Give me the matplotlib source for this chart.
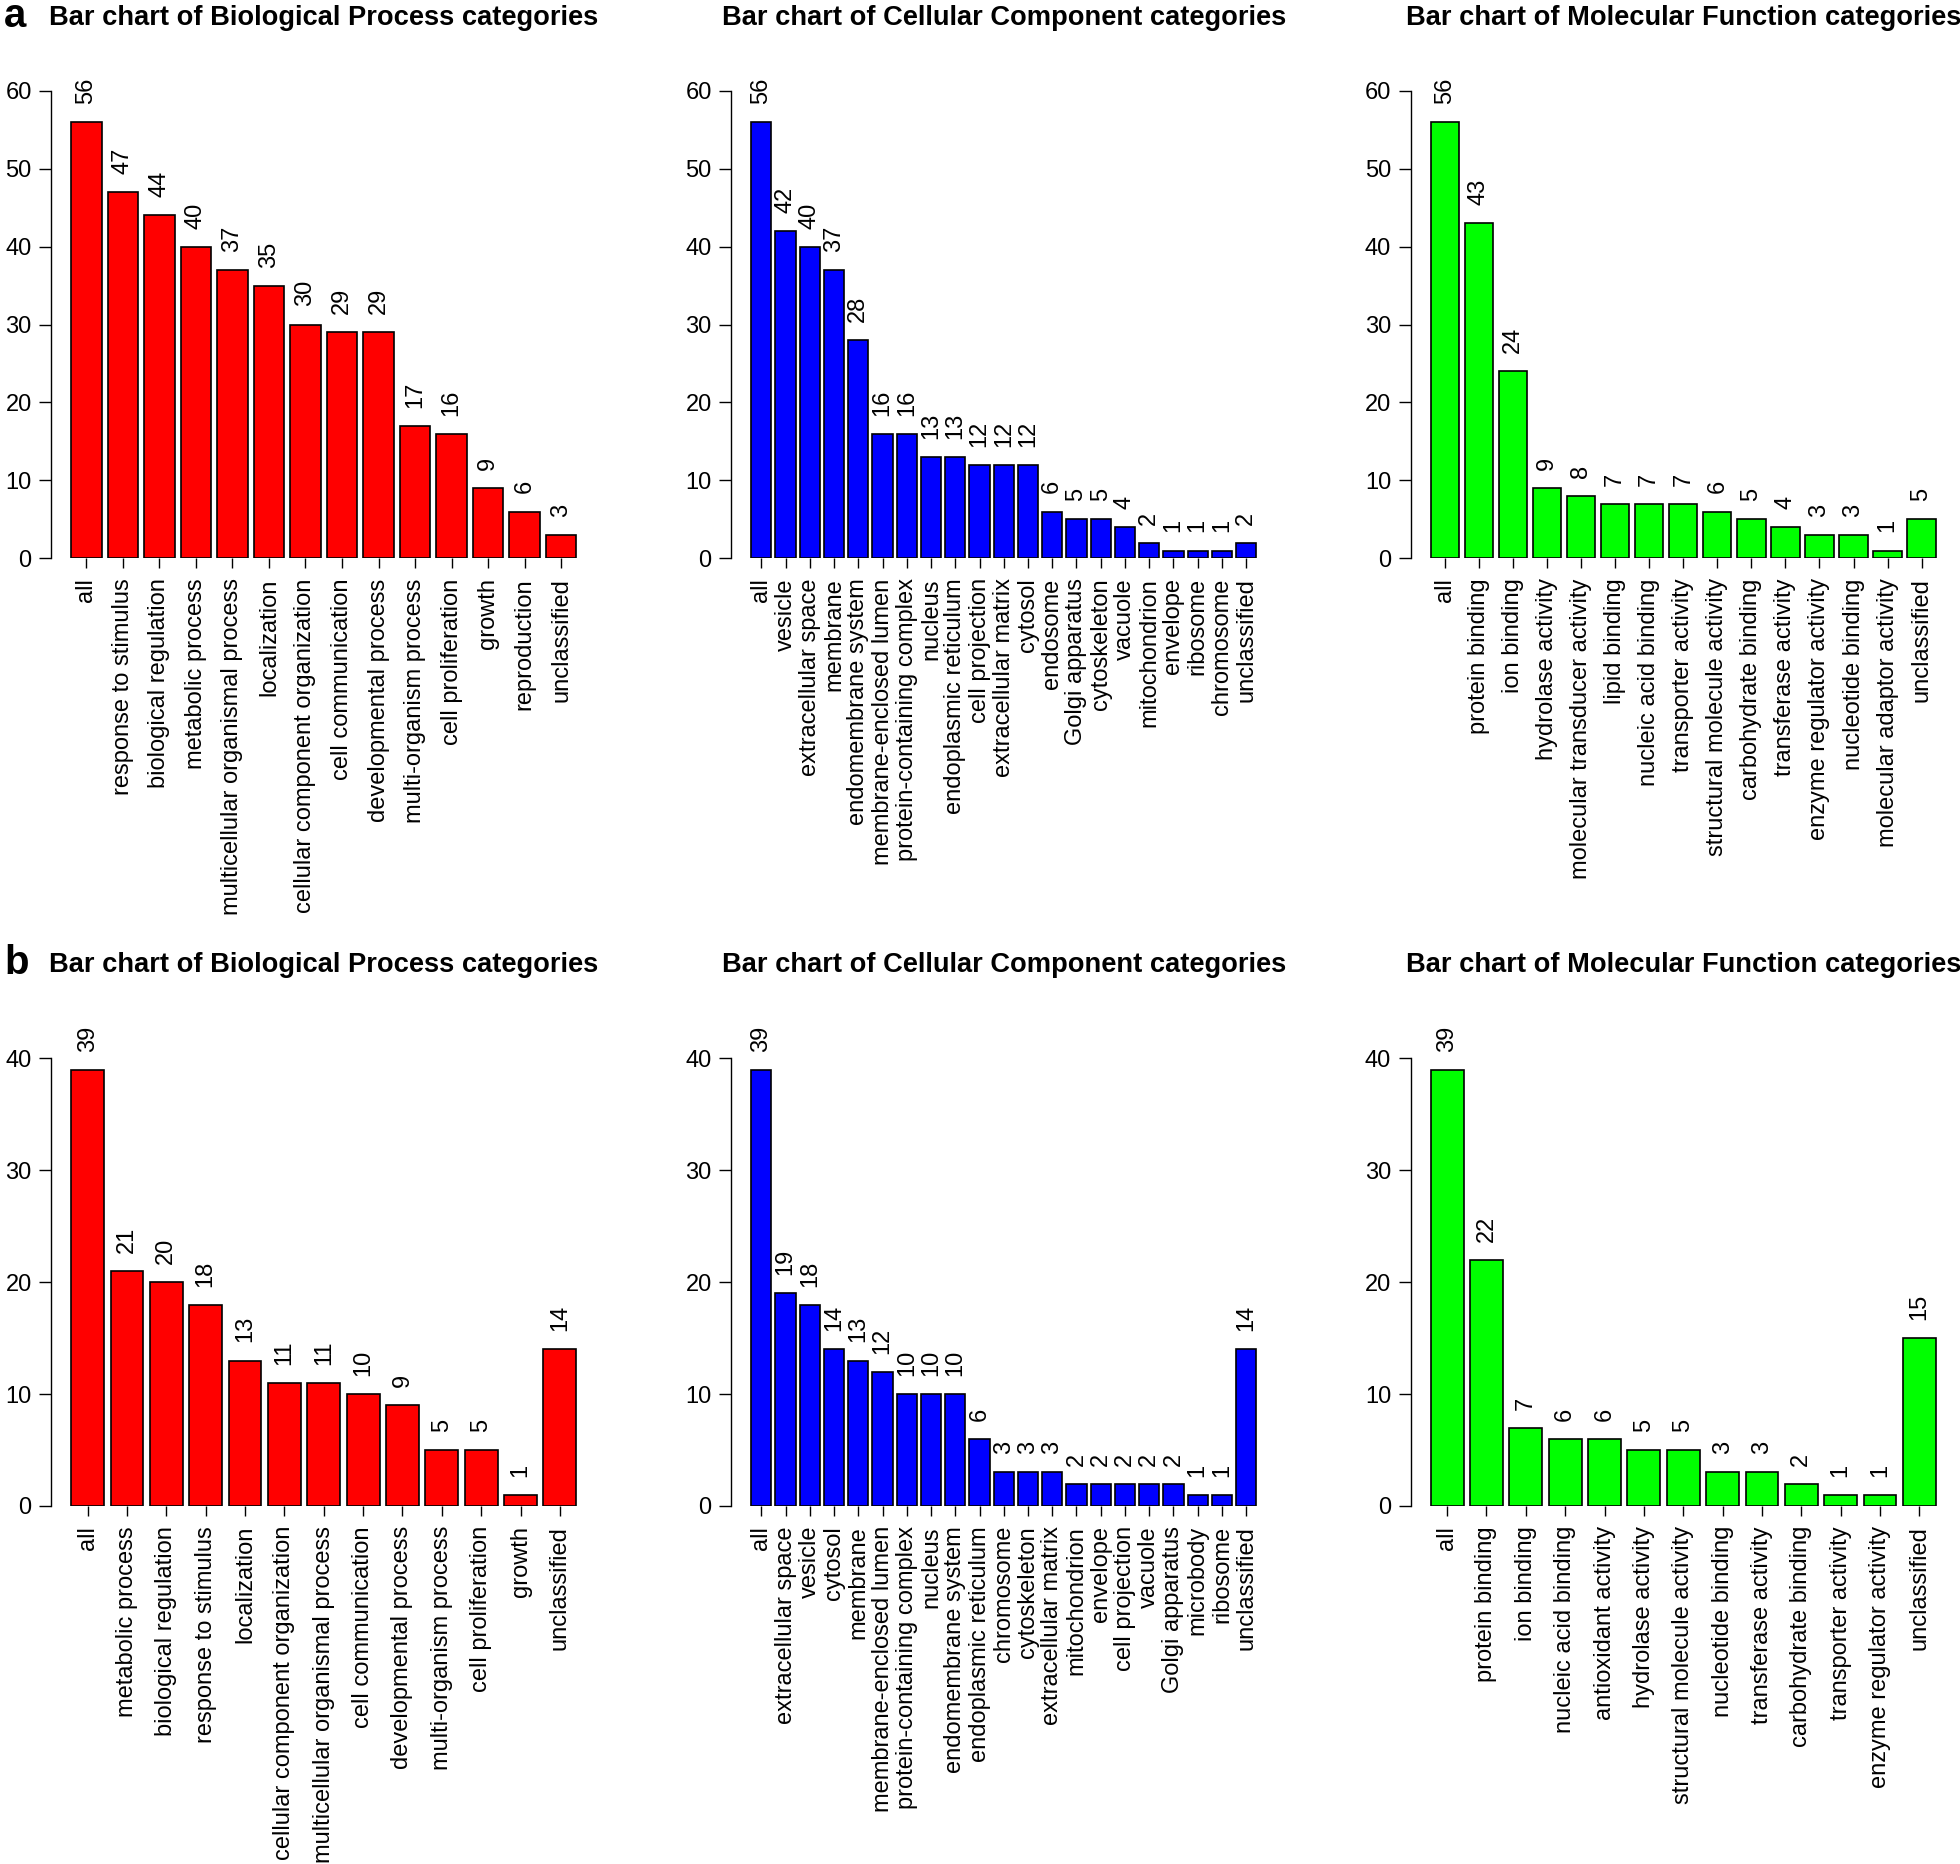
import matplotlib
matplotlib.use("Agg")
import matplotlib.pyplot as plt

plt.rcParams["font.family"] = ["Liberation Sans", "DejaVu Sans"]

# --- data: panel a ---
bp_a_labels = ["all", "response to stimulus", "biological regulation", "metabolic process",
               "multicellular organismal process", "localization",
               "cellular component organization", "cell communication",
               "developmental process", "multi-organism process", "cell proliferation",
               "growth", "reproduction", "unclassified"]
bp_a_values = [56, 47, 44, 40, 37, 35, 30, 29, 29, 17, 16, 9, 6, 3]

cc_a_labels = ["all", "vesicle", "extracellular space", "membrane", "endomembrane system",
               "membrane-enclosed lumen", "protein-containing complex", "nucleus",
               "endoplasmic reticulum", "cell projection", "extracellular matrix", "cytosol",
               "endosome", "Golgi apparatus", "cytoskeleton", "vacuole", "mitochondrion",
               "envelope", "ribosome", "chromosome", "unclassified"]
cc_a_values = [56, 42, 40, 37, 28, 16, 16, 13, 13, 12, 12, 12, 6, 5, 5, 4, 2, 1, 1, 1, 2]

mf_a_labels = ["all", "protein binding", "ion binding", "hydrolase activity",
               "molecular transducer activity", "lipid binding", "nucleic acid binding",
               "transporter activity", "structural molecule activity", "carbohydrate binding",
               "transferase activity", "enzyme regulator activity", "nucleotide binding",
               "molecular adaptor activity", "unclassified"]
mf_a_values = [56, 43, 24, 9, 8, 7, 7, 7, 6, 5, 4, 3, 3, 1, 5]

# --- data: panel b ---
bp_b_labels = ["all", "metabolic process", "biological regulation", "response to stimulus",
               "localization", "cellular component organization",
               "multicellular organismal process", "cell communication",
               "developmental process", "multi-organism process", "cell proliferation",
               "growth", "unclassified"]
bp_b_values = [39, 21, 20, 18, 13, 11, 11, 10, 9, 5, 5, 1, 14]

cc_b_labels = ["all", "extracellular space", "vesicle", "cytosol", "membrane",
               "membrane-enclosed lumen", "protein-containing complex", "nucleus",
               "endomembrane system", "endoplasmic reticulum", "chromosome", "cytoskeleton",
               "extracellular matrix", "mitochondrion", "envelope", "cell projection",
               "vacuole", "Golgi apparatus", "microbody", "ribosome", "unclassified"]
cc_b_values = [39, 19, 18, 14, 13, 12, 10, 10, 10, 6, 3, 3, 3, 2, 2, 2, 2, 2, 1, 1, 14]

mf_b_labels = ["all", "protein binding", "ion binding", "nucleic acid binding",
               "antioxidant activity", "hydrolase activity", "structural molecule activity",
               "nucleotide binding", "transferase activity", "carbohydrate binding",
               "transporter activity", "enzyme regulator activity", "unclassified"]
mf_b_values = [39, 22, 7, 6, 6, 5, 5, 3, 3, 2, 1, 1, 15]

titles = ["Bar chart of Biological Process categories",
          "Bar chart of Cellular Component categories",
          "Bar chart of Molecular Function categories"]
colors = ["#ff0000", "#0000ff", "#00ff00"]

W, H = 1960, 1864
fig = plt.figure(figsize=(W / 100, H / 100), dpi=100)

col_left = [51, 731, 1410.5]   # px
ax_w = 545.5
ax_h = 480
rows = [
    (558.3, 25, "a", [(bp_a_labels, bp_a_values), (cc_a_labels, cc_a_values),
                      (mf_a_labels, mf_a_values)], 60),
    (1506, 972, "b", [(bp_b_labels, bp_b_values), (cc_b_labels, cc_b_values),
                      (mf_b_labels, mf_b_values)], 40),
]

for y0, title_base, letter, panels, ytop in rows:
    fig.text(4 / W, 1 - (title_base + 2) / H, letter, fontsize=29, fontweight="bold",
             ha="left", va="baseline")
    for j, (labels, values) in enumerate(panels):
        ax = fig.add_axes([col_left[j] / W, 1 - y0 / H, ax_w / W, ax_h / H])
        n = len(values)
        xs = [0.7 + 1.2 * i for i in range(n)]
        span = 1.2 * n - 0.2
        ax.bar(xs, values, width=1.0, color=colors[j], edgecolor="black", linewidth=1.2)
        ax.set_xlim(0.2 - 0.04 * span, 1.2 * n + 0.04 * span)
        ax.set_ylim(0, 1.1 * max(values))
        for x, v in zip(xs, values):
            ax.annotate(str(v), (x, v), xytext=(0, 13), textcoords="offset points",
                        rotation=90, ha="center", va="bottom", fontsize=17)
        ax.set_xticks(xs)
        ax.set_xticklabels(labels, rotation=90, fontsize=17)
        ax.set_yticks(range(0, ytop + 1, 10))
        ax.tick_params(axis="y", direction="out", length=8.4, width=1.0, pad=5.5,
                       labelsize=17)
        ax.tick_params(axis="x", direction="out", length=7.2, width=1.0, pad=7.2)
        for s in ["top", "right", "bottom"]:
            ax.spines[s].set_visible(False)
        ax.spines["left"].set_bounds(0, ytop)
        ax.spines["left"].set_linewidth(1.0)
        ax.patch.set_alpha(0)
        cx = (col_left[j] + ax_w / 2) / W
        fig.text(cx, 1 - title_base / H, titles[j], fontsize=19.6, fontweight="bold",
                 ha="center", va="baseline")

fig.savefig("out.png", dpi=100)
